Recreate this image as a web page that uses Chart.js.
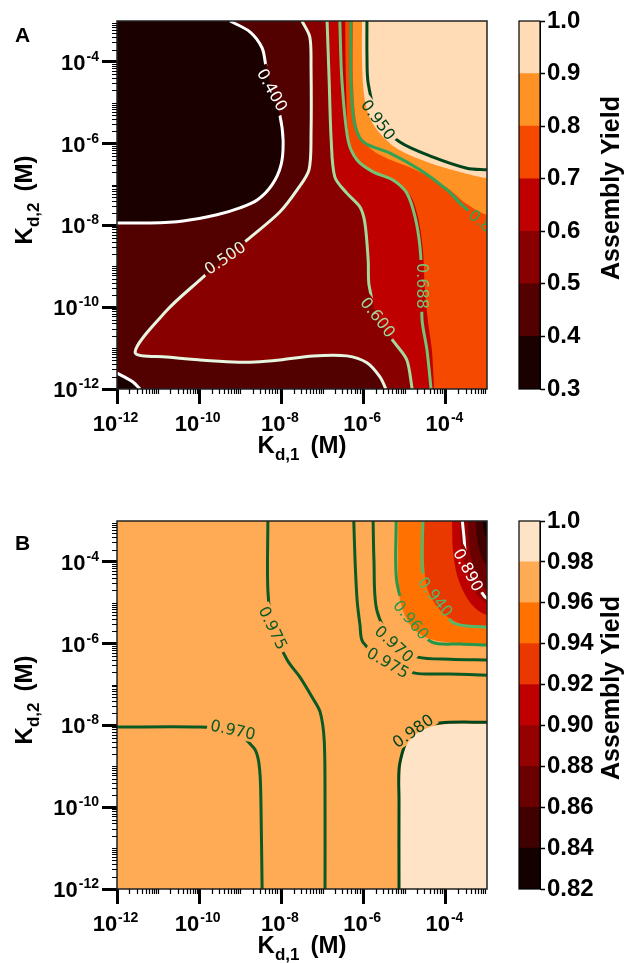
<!DOCTYPE html>
<html>
<head>
<meta charset="utf-8">
<title>Assembly yield maps</title>
<script src="https://cdn.jsdelivr.net/npm/chart.js@4.4.1/dist/chart.umd.min.js"></script>
<style>
  body { margin: 0; background: #fff; }
  #page { position: relative; width: 632px; height: 963px; overflow: hidden; }
  #page canvas { position: absolute; }
</style>
</head>
<body>
<div id="page">
  <canvas id="mapA" width="505" height="470" style="left:0;top:0"></canvas>
  <canvas id="barA" width="127" height="470" style="left:505px;top:0"></canvas>
  <canvas id="mapB" width="505" height="463" style="left:0;top:500px"></canvas>
  <canvas id="barB" width="127" height="463" style="left:505px;top:500px"></canvas>
</div>
<script>
// both axes are log10(Kd / M), 1e-12 .. 1e-3
var axisMin = -12, axisMax = -3;
var tickVals = [-12, -10, -8, -6, -4];
var tickExps = ['-12', '-10', '-8', '-6', '-4'];

// colour bar levels
var levelsA = [0.3, 0.4, 0.5, 0.6, 0.7, 0.8, 0.9, 1.0];
var levelLabelsA = ['0.3', '0.4', '0.5', '0.6', '0.7', '0.8', '0.9', '1.0'];
var levelsB = [0.82, 0.84, 0.86, 0.88, 0.90, 0.92, 0.94, 0.96, 0.98, 1.0];
var levelLabelsB = ['0.82', '0.84', '0.86', '0.88', '0.90', '0.92', '0.94', '0.96', '0.98', '1.0'];

// gist_heat style band colours
var heatA = ['#1b0000', '#520000', '#890000', '#bf0000', '#f64900', '#ff9224', '#ffdbb6'];
var heatB = ['#150000', '#400000', '#6a0000', '#950000', '#bf0000', '#ea3900', '#ff7100', '#ffaa55', '#ffe3c6'];

// ---- panel A: band edges, [log Kd1, log Kd2] ----
var A_edge04 = [[-9.25,-3.00],[-8.76,-3.27],[-8.47,-3.66],[-8.38,-4.08],[-8.23,-4.69],[-8.04,-5.30],[-7.96,-5.91],
  [-8.01,-6.52],[-8.23,-7.01],[-8.59,-7.38],[-9.01,-7.57],[-9.57,-7.74],[-10.39,-7.89],[-11.20,-7.94],[-12.00,-7.94]];
var A_corner04 = [[-12.00,-11.61],[-11.81,-11.71],[-11.61,-11.83],[-11.44,-12.00]];
var A_edge05 = [[-7.50,-3.00],[-7.31,-3.39],[-7.28,-4.13],[-7.28,-5.74],[-7.33,-6.64],[-7.62,-7.13],[-8.04,-7.67],
  [-8.84,-8.36],[-9.37,-8.80],[-9.98,-9.33],[-10.78,-10.07],[-11.56,-11.10],[-10.78,-11.22],[-9.98,-11.29],
  [-9.18,-11.34],[-8.64,-11.34],[-8.04,-11.29],[-7.23,-11.19],[-6.41,-11.19],[-5.92,-11.36],[-5.60,-11.71],[-5.46,-12.00]];
var A_edge06 = [[-6.89,-3.00],[-6.84,-4.44],[-6.79,-5.91],[-6.70,-6.82],[-6.41,-7.21],[-6.09,-7.55],[-5.97,-7.94],
  [-5.89,-8.85],[-5.87,-9.46],[-5.70,-10.15],[-5.48,-10.56],[-5.24,-10.88],[-4.95,-11.29],[-4.82,-12.00]];
var A_edge07 = [[-6.45,-3.00],[-6.43,-4.44],[-6.36,-5.91],[-6.14,-6.40],[-5.72,-6.72],[-5.24,-6.94],[-4.87,-7.26],
  [-4.68,-7.79],[-4.56,-8.60],[-4.51,-9.58],[-4.44,-10.31],[-4.34,-11.05],[-4.29,-12.00]];
var A_edge08 = [[-6.26,-3.00],[-6.26,-4.44],[-6.19,-5.42],[-6.04,-5.91],[-5.60,-6.28],[-4.63,-6.69],[-3.97,-7.08],
  [-3.53,-7.45],[-3.00,-7.74]];
var A_edge09 = [[-6.04,-3.00],[-6.04,-3.95],[-5.99,-4.81],[-5.85,-5.37],[-5.55,-5.81],[-5.12,-6.16],[-4.39,-6.47],
  [-3.66,-6.69],[-3.00,-6.84]];
// contour lines that do not sit on a band edge
var A_line0688 = [[-6.58,-3.00],[-6.53,-4.44],[-6.38,-5.91],[-6.16,-6.40],[-5.77,-6.69],[-5.29,-6.89],[-4.95,-7.21],
  [-4.75,-7.79],[-4.63,-8.53],[-4.58,-9.48],[-4.58,-10.31],[-4.46,-11.05],[-4.36,-12.00]];
var A_line080 = [[-6.31,-3.00],[-6.31,-4.44],[-6.24,-5.42],[-6.09,-5.86],[-5.89,-6.03],[-5.36,-6.23],[-4.63,-6.64],
  [-3.97,-7.13],[-3.61,-7.50],[-3.00,-8.02]];
var A_line095 = [[-5.92,-3.00],[-5.92,-3.83],[-5.89,-4.52],[-5.65,-5.42],[-5.12,-5.96],[-4.31,-6.33],[-3.49,-6.60],[-3.00,-6.64]];
// inline labels: text, position, angle
var A_tags = {
  l04: [{ text: '0.400', at: [-8.23, -4.69], rot: 61 }],
  l05: [{ text: '0.500', at: [-9.37, -8.80], rot: -34 }],
  l06: [{ text: '0.600', at: [-5.66, -10.25], rot: 52 }],
  l0688: [{ text: '0.688', at: [-4.58, -9.48], rot: 90 }],
  l080: [{ text: '0.800', at: [-2.97, -8.05], rot: 40 }],
  l095: [{ text: '0.950', at: [-5.65, -5.42], rot: 53 }]
};

// ---- panel B ----
var B_edge098 = [[-3.00,-7.96],[-3.90,-7.96],[-4.39,-8.04],[-4.75,-8.23],[-4.99,-8.55],[-5.09,-8.97],[-5.12,-9.82],[-5.12,-12.00]];
var B_edge096 = [[-5.16,-3.00],[-5.16,-4.44],[-5.09,-5.05],[-4.87,-5.54],[-4.51,-5.84],[-4.02,-5.96],[-3.00,-6.01]];
var B_edge094 = [[-4.53,-3.00],[-4.53,-4.08],[-4.44,-4.69],[-4.19,-5.13],[-3.85,-5.42],[-3.41,-5.57],[-3.00,-5.59]];
var B_edge092 = [[-3.85,-3.00],[-3.83,-3.71],[-3.73,-4.32],[-3.53,-4.81],[-3.29,-5.13],[-3.00,-5.30]];
var B_edge090 = [[-3.66,-3.00],[-3.63,-3.59],[-3.51,-4.20],[-3.36,-4.64],[-3.17,-4.88],[-3.00,-5.03]];
var B_edge088 = [[-3.46,-3.00],[-3.44,-3.59],[-3.34,-4.08],[-3.17,-4.44],[-3.00,-4.69]];
var B_edge086 = [[-3.27,-3.00],[-3.24,-3.46],[-3.15,-3.83],[-3.00,-4.08]];
var B_edge084 = [[-3.12,-3.00],[-3.07,-3.22],[-3.00,-3.42]];
var B_line0975a = [[-8.33,-3.00],[-8.33,-4.69],[-8.21,-5.62],[-7.86,-6.40],[-7.55,-6.82],[-7.26,-7.30],[-7.06,-7.67],
  [-6.96,-8.36],[-6.94,-9.82],[-6.94,-12.00]];
var B_line0970a = [[-12.00,-8.04],[-9.98,-8.04],[-9.18,-8.11],[-8.67,-8.55],[-8.57,-8.80],[-8.52,-9.21],[-8.50,-9.82],[-8.47,-12.00]];
var B_line0975b = [[-6.24,-3.00],[-6.21,-3.95],[-6.16,-4.93],[-6.09,-5.54],[-6.02,-5.96],[-5.41,-6.47],[-4.75,-6.72],
  [-3.90,-6.74],[-3.00,-6.77]];
var B_line0970b = [[-5.77,-3.00],[-5.75,-3.95],[-5.68,-5.18],[-5.26,-6.01],[-4.68,-6.33],[-3.90,-6.38],[-3.00,-6.40]];
var B_line0980 = [[-3.00,-7.92],[-4.14,-7.94],[-4.80,-8.14],[-5.12,-8.92],[-5.14,-9.82],[-5.14,-12.00]];
var B_line0960 = [[-5.21,-3.00],[-5.19,-4.52],[-4.85,-5.42],[-4.34,-5.96],[-3.66,-6.01],[-3.00,-6.03]];
var B_line0940 = [[-4.56,-3.00],[-4.56,-4.25],[-4.26,-4.86],[-3.85,-5.47],[-3.49,-5.57],[-3.00,-5.59]];
var B_line0890 = [[-3.60,-3.00],[-3.57,-3.29],[-3.46,-4.20],[-3.07,-4.83],[-2.95,-4.92]];
var B_tags = {
  l0975a: [{ text: '0.975', at: [-8.21, -5.62], rot: 64 }],
  l0970a: [{ text: '0.970', at: [-9.18, -8.11], rot: 12 }],
  l0975b: [{ text: '0.975', at: [-5.41, -6.47], rot: 30 }],
  l0970b: [{ text: '0.970', at: [-5.26, -6.01], rot: 42 }],
  l0980: [{ text: '0.980', at: [-4.80, -8.14], rot: -35 }],
  l0960: [{ text: '0.960', at: [-4.85, -5.42], rot: 50 }],
  l0940: [{ text: '0.940', at: [-4.26, -4.86], rot: 52 }],
  l0890: [{ text: '0.890', at: [-3.46, -4.20], rot: 62 }]
};

var FONT = '"Liberation Sans", Arial, Helvetica, sans-serif';
var LABEL_FONT = '16px "DejaVu Sans", sans-serif';

// whole-plot rectangle, a bit past the axes
var fullRect = [[axisMin - 0.5, axisMin - 0.5], [axisMax + 0.5, axisMin - 0.5], [axisMax + 0.5, axisMax + 0.5], [axisMin - 0.5, axisMax + 0.5]];
var cornerPts = { tl: [axisMin - 0.5, axisMax + 0.5], tr: [axisMax + 0.5, axisMax + 0.5],
                  br: [axisMax + 0.5, axisMin - 0.5], bl: [axisMin - 0.5, axisMin - 0.5] };

function pushOut(p) {
  var x = p[0], y = p[1];
  if (x <= axisMin) x = axisMin - 0.5; else if (x >= axisMax) x = axisMax + 0.5;
  if (y <= axisMin) y = axisMin - 0.5; else if (y >= axisMax) y = axisMax + 0.5;
  return [x, y];
}

// close a band edge round the given plot corners
function closeRegion(pts, corners) {
  var out = pts.slice();
  out.push(pushOut(pts[pts.length - 1]));
  corners.forEach(function (c) { out.push(cornerPts[c]); });
  out.push(pushOut(pts[0]));
  return out;
}

function toXY(pts) {
  return pts.map(function (p) { return { x: p[0], y: p[1] }; });
}

function region(pts, color, tension) {
  return { data: toXY(pts), fill: 'shape', backgroundColor: color, borderWidth: 0,
           pointRadius: 0, tension: tension === undefined ? 0.3 : tension };
}

function contour(pts, color, tags) {
  return { data: toXY(pts), fill: false, borderColor: color, borderWidth: 3,
           pointRadius: 0, tension: 0.3, clip: 0, tags: tags };
}

function drawPow(ctx, exp, x, base, alignRight) {
  ctx.font = 'bold 22px ' + FONT;
  var wTen = ctx.measureText('10').width;
  ctx.font = 'bold 14px ' + FONT;
  var wExp = ctx.measureText(exp).width;
  var x0 = alignRight ? x - wTen - wExp : x - (wTen + wExp) / 2;
  ctx.textAlign = 'left';
  ctx.textBaseline = 'alphabetic';
  ctx.fillStyle = '#000';
  ctx.font = 'bold 22px ' + FONT;
  ctx.fillText('10', x0, base);
  ctx.font = 'bold 14px ' + FONT;
  ctx.fillText(exp, x0 + wTen + 1, base - 9);
}

function drawKd(ctx, sub, cx, base) {
  ctx.font = 'bold 24px ' + FONT;
  var wK = ctx.measureText('K').width;
  var wM = ctx.measureText('(M)').width;
  ctx.font = 'bold 17px ' + FONT;
  var wS = ctx.measureText(sub).width;
  var gap = 11;
  var x0 = cx - (wK + wS + gap + wM) / 2;
  ctx.textAlign = 'left';
  ctx.textBaseline = 'alphabetic';
  ctx.fillStyle = '#000';
  ctx.font = 'bold 24px ' + FONT;
  ctx.fillText('K', x0, base);
  ctx.fillText('(M)', x0 + wK + wS + gap, base);
  ctx.font = 'bold 17px ' + FONT;
  ctx.fillText(sub, x0 + wK, base + 7);
}

function tagBox(chart, t) {
  var ctx = chart.ctx;
  var px = chart.scales.x.getPixelForValue(t.at[0]);
  var py = chart.scales.y.getPixelForValue(t.at[1]);
  ctx.font = LABEL_FONT;
  var hw = ctx.measureText(t.text).width / 2 + 3, hh = 8;
  var r = t.rot * Math.PI / 180, c = Math.cos(r), s = Math.sin(r);
  return [[-hw, -hh], [hw, -hh], [hw, hh], [-hw, hh]].map(function (uv) {
    return [px + uv[0] * c - uv[1] * s, py + uv[0] * s + uv[1] * c];
  });
}

// labels, frame, ticks and titles of a map panel
function mapDecor(letter, letterY) {
  return {
    id: 'mapDecor',
    beforeDatasetDraw: function (chart, args) {
      var ds = chart.data.datasets[args.index];
      if (!ds.tags) return;
      var ctx = chart.ctx, a = chart.chartArea;
      ctx.save();
      ctx.beginPath();
      ctx.rect(a.left - 5, a.top - 5, a.width + 10, a.height + 10);
      ds.tags.forEach(function (t) {
        var box = tagBox(chart, t);
        ctx.moveTo(box[0][0], box[0][1]);
        for (var i = 1; i < 4; i++) ctx.lineTo(box[i][0], box[i][1]);
        ctx.closePath();
      });
      ctx.clip('evenodd');
    },
    afterDatasetDraw: function (chart, args) {
      if (chart.data.datasets[args.index].tags) chart.ctx.restore();
    },
    afterDatasetsDraw: function (chart) {
      var ctx = chart.ctx, a = chart.chartArea;
      ctx.save();
      ctx.beginPath();
      ctx.rect(a.left, a.top, a.width, a.height);
      ctx.clip();
      ctx.font = LABEL_FONT;
      ctx.textAlign = 'center';
      ctx.textBaseline = 'middle';
      chart.data.datasets.forEach(function (ds) {
        (ds.tags || []).forEach(function (t) {
          ctx.save();
          ctx.translate(chart.scales.x.getPixelForValue(t.at[0]), chart.scales.y.getPixelForValue(t.at[1]));
          ctx.rotate(t.rot * Math.PI / 180);
          ctx.fillStyle = ds.borderColor;
          ctx.fillText(t.text, 0, 1);
          ctx.restore();
        });
      });
      ctx.restore();
      ctx.save();
      ctx.strokeStyle = '#222';
      ctx.lineWidth = 1.5;
      ctx.strokeRect(a.left, a.top, a.width, a.height);
      ctx.restore();
    },
    afterDraw: function (chart) {
      var ctx = chart.ctx, a = chart.chartArea;
      var xs = chart.scales.x, ys = chart.scales.y;
      ctx.save();
      // minor ticks
      ctx.strokeStyle = '#000';
      ctx.lineWidth = 1.2;
      ctx.beginPath();
      for (var d = axisMin; d < axisMax; d++) {
        for (var k = 1; k <= 9; k++) {
          if (k === 1 && tickVals.indexOf(d) >= 0) continue;
          var v = d + Math.log10(k);
          var px = Math.round(xs.getPixelForValue(v)) + 0.5;
          var py = Math.round(ys.getPixelForValue(v)) + 0.5;
          ctx.moveTo(px, a.bottom); ctx.lineTo(px, a.bottom + 5);
          ctx.moveTo(a.left - 5, py); ctx.lineTo(a.left, py);
        }
      }
      ctx.stroke();
      // tick labels
      tickVals.forEach(function (v, i) {
        drawPow(ctx, tickExps[i], xs.getPixelForValue(v) - 2, a.bottom + 42, false);
        drawPow(ctx, tickExps[i], a.left - 19, ys.getPixelForValue(v) + 8, true);
      });
      // axis titles
      drawKd(ctx, 'd,1', (a.left + a.right) / 2, a.bottom + 64);
      ctx.save();
      ctx.translate(32, (a.top + a.bottom) / 2 - 5);
      ctx.rotate(-Math.PI / 2);
      drawKd(ctx, 'd,2', 0, 0);
      ctx.restore();
      // panel letter
      ctx.font = 'bold 21px ' + FONT;
      ctx.textAlign = 'left';
      ctx.textBaseline = 'alphabetic';
      ctx.fillStyle = '#000';
      ctx.fillText(letter, 15, letterY);
      ctx.restore();
    }
  };
}

function makeMap(id, datasets, letter, letterY) {
  datasets.forEach(function (ds, i) { ds.order = datasets.length - i; });
  return new Chart(document.getElementById(id), {
    type: 'line',
    data: { datasets: datasets },
    options: {
      responsive: false,
      maintainAspectRatio: false,
      animation: false,
      devicePixelRatio: 1,
      events: [],
      layout: { padding: { left: 0, top: 21, right: 18, bottom: 0 } },
      plugins: { legend: { display: false }, tooltip: { enabled: false } },
      elements: { point: { radius: 0 }, line: { capBezierPoints: false } },
      scales: {
        x: {
          type: 'linear', min: axisMin, max: axisMax,
          afterBuildTicks: function (s) { s.ticks = tickVals.map(function (v) { return { value: v }; }); },
          afterFit: function (s) { s.height = s.chart.height - 389; },
          ticks: { display: false },
          grid: { drawOnChartArea: false, tickLength: 15, tickWidth: 3, tickColor: '#000' },
          border: { display: false }
        },
        y: {
          type: 'linear', min: axisMin, max: axisMax,
          afterBuildTicks: function (s) { s.ticks = tickVals.map(function (v) { return { value: v }; }); },
          afterFit: function (s) { s.width = 117; },
          ticks: { display: false },
          grid: { drawOnChartArea: false, tickLength: 15, tickWidth: 3, tickColor: '#000' },
          border: { display: false }
        }
      }
    },
    plugins: [mapDecor(letter, letterY)]
  });
}

function barDecor() {
  return {
    id: 'barDecor',
    afterDraw: function (chart) {
      var ctx = chart.ctx, a = chart.chartArea;
      ctx.save();
      ctx.strokeStyle = '#000';
      ctx.lineWidth = 1.2;
      ctx.strokeRect(a.left, a.top, a.width, a.height);
      ctx.translate(114, 188);
      ctx.rotate(-Math.PI / 2);
      ctx.font = 'bold 25px ' + FONT;
      ctx.textAlign = 'center';
      ctx.textBaseline = 'alphabetic';
      ctx.fillStyle = '#000';
      ctx.fillText('Assembly Yield', 0, 0);
      ctx.restore();
    }
  };
}

function makeBar(id, levels, labels, colors) {
  var datasets = colors.map(function (c, i) {
    return { data: [[levels[i], levels[i + 1]]], backgroundColor: c, borderWidth: 0,
             barPercentage: 1, categoryPercentage: 1, grouped: false };
  });
  return new Chart(document.getElementById(id), {
    type: 'bar',
    data: { labels: [''], datasets: datasets },
    options: {
      responsive: false,
      maintainAspectRatio: false,
      animation: false,
      devicePixelRatio: 1,
      events: [],
      layout: { padding: { left: 14, top: 21, right: 0, bottom: 0 } },
      plugins: { legend: { display: false }, tooltip: { enabled: false } },
      scales: {
        x: { display: false, afterFit: function (s) { s.height = s.chart.height - 389; } },
        y: {
          position: 'right', min: levels[0], max: levels[levels.length - 1],
          afterBuildTicks: function (s) { s.ticks = levels.map(function (v) { return { value: v }; }); },
          afterFit: function (s) { s.width = 92; },
          ticks: {
            autoSkip: false, padding: 2, color: '#000',
            font: { family: FONT, size: 24, weight: 'bold' },
            callback: function (v, i) { return labels[i]; }
          },
          grid: { drawOnChartArea: false, tickLength: 5, tickWidth: 1.5, tickColor: '#000' },
          border: { display: true, color: '#000', width: 1 }
        }
      }
    },
    plugins: [barDecor()]
  });
}

makeMap('mapA', [
  region(fullRect, heatA[1], 0),
  region(closeRegion(A_edge04, ['tl']), heatA[0]),
  region(closeRegion(A_corner04, ['bl']), heatA[0]),
  region(closeRegion(A_edge05, ['br', 'tr']), heatA[2]),
  region(closeRegion(A_edge06, ['br', 'tr']), heatA[3]),
  region(closeRegion(A_edge07, ['br', 'tr']), heatA[4]),
  region(closeRegion(A_edge08, ['tr']), heatA[5]),
  region(closeRegion(A_edge09, ['tr']), heatA[6]),
  contour(A_edge04, '#ffffff', A_tags.l04),
  contour(A_corner04, '#ffffff', []),
  contour(A_edge05, '#e5f5e0', A_tags.l05),
  contour(A_edge06, '#a1d99b', A_tags.l06),
  contour(A_line0688, '#74c476', A_tags.l0688),
  contour(A_line080, '#31a354', A_tags.l080),
  contour(A_line095, '#00441b', A_tags.l095)
], 'A', 42);

makeMap('mapB', [
  region(fullRect, heatB[7], 0),
  region(closeRegion(B_edge098, ['br']), heatB[8]),
  region(closeRegion(B_edge096, ['tr']), heatB[6]),
  region(closeRegion(B_edge094, ['tr']), heatB[5]),
  region(closeRegion(B_edge092, ['tr']), heatB[4]),
  region(closeRegion(B_edge090, ['tr']), heatB[3]),
  region(closeRegion(B_edge088, ['tr']), heatB[2]),
  region(closeRegion(B_edge086, ['tr']), heatB[1]),
  region(closeRegion(B_edge084, ['tr']), heatB[0]),
  contour(B_line0975a, '#0b5a24', B_tags.l0975a),
  contour(B_line0970a, '#0b5a24', B_tags.l0970a),
  contour(B_line0975b, '#0b5a24', B_tags.l0975b),
  contour(B_line0970b, '#0b5a24', B_tags.l0970b),
  contour(B_line0980, '#00441b', B_tags.l0980),
  contour(B_line0960, '#23974a', B_tags.l0960),
  contour(B_line0940, '#52b96b', B_tags.l0940),
  contour(B_line0890, '#ffffff', B_tags.l0890)
], 'B', 50);

makeBar('barA', levelsA, levelLabelsA, heatA);
makeBar('barB', levelsB, levelLabelsB, heatB);
</script>
</body>
</html>
